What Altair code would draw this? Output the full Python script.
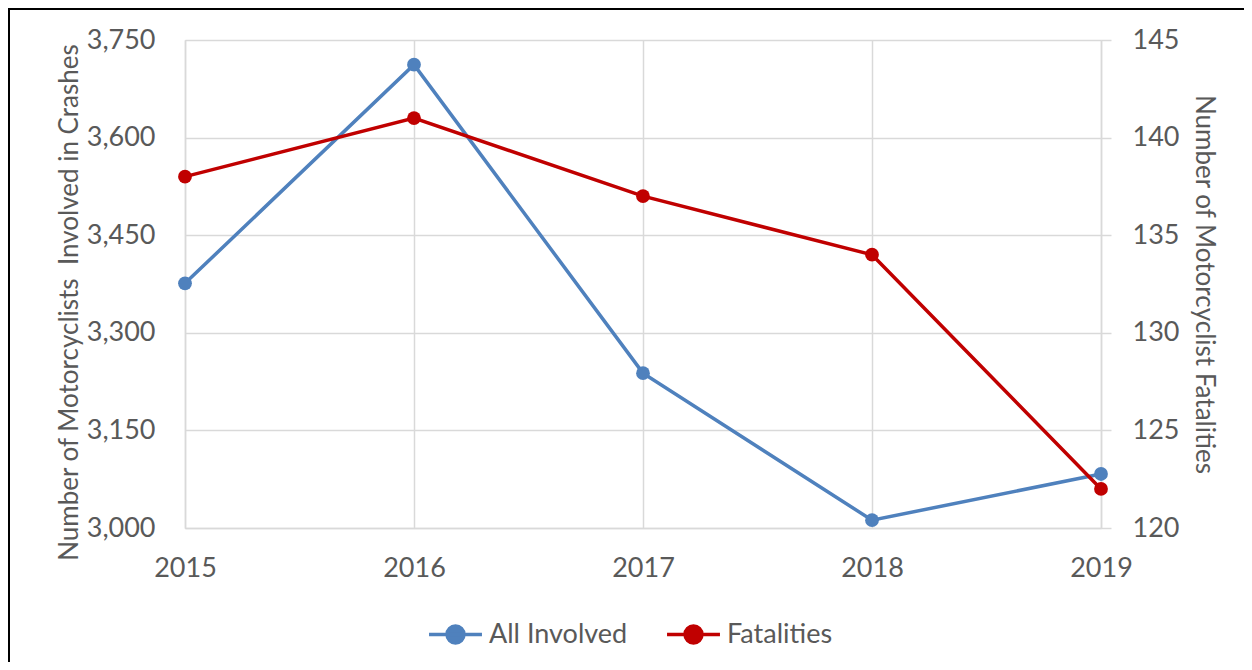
import altair as alt
import pandas as pd

years = ["2015", "2016", "2017", "2018", "2019"]
all_involved = [3376, 3712, 3238, 3012, 3083]
fatalities = [138, 141, 137, 134, 122]
series_names = ["All Involved", "Fatalities"]
series_colors = ["#4f81bd", "#c00000"]
left_ticks = [3000, 3150, 3300, 3450, 3600, 3750]
right_ticks = [120, 125, 130, 135, 140, 145]

df = pd.DataFrame({
    "year": years * 2,
    "series": [series_names[0]] * 5 + [series_names[1]] * 5,
    "value": all_involved + fatalities,
})

FONT = "Lato"
GRAY = "#595959"
GRID = "#d9d9d9"
W, H = 916, 488
LBL = 27
TTL = 26

color = alt.Color(
    "series:N",
    scale=alt.Scale(domain=series_names, range=series_colors),
    legend=alt.Legend(
        title=None,
        orient="none",
        legendX=242,
        legendY=566,
        direction="horizontal",
        symbolType="M-1,0H1M0.32,0A0.32,0.32 0 1,1 -0.32,0A0.32,0.32 0 1,1 0.32,0",
        symbolSize=2800,
        symbolStrokeWidth=3.5,
        labelFontSize=LBL,
        labelFont=FONT,
        labelColor=GRAY,
        columnPadding=32,
        labelOffset=5,
    ),
)

x = alt.X(
    "year:O",
    sort=years,
    scale=alt.Scale(type="point", padding=0),
    axis=alt.Axis(
        title=None, labelAngle=0, labelFontSize=LBL, labelFont=FONT,
        labelColor=GRAY, labelPadding=27, ticks=False, domainColor=GRID,
        domainWidth=1.5, grid=True, gridColor=GRID, gridWidth=1.5,
    ),
)

base = alt.Chart(df)

left = base.transform_filter(alt.datum.series == series_names[0]).mark_line(
    strokeWidth=3.5, point=alt.OverlayMarkDef(size=190, filled=True, opacity=1)
).encode(
    x=x,
    y=alt.Y(
        "value:Q",
        scale=alt.Scale(domain=[3000, 3750], nice=False, zero=False),
        axis=alt.Axis(
            title="Number of Motorcyclists \u00a0Involved in Crashes",
            values=left_ticks, labelExpr="format(datum.value, ',.0f')",
            labelFontSize=LBL, labelFont=FONT,
            labelColor=GRAY, labelPadding=30, ticks=False, domain=True,
            domainColor=GRID, domainWidth=1.5, grid=True, gridColor=GRID,
            gridWidth=1.5, titleFont=FONT, titleFontSize=TTL,
            titleFontWeight="normal", titleColor=GRAY, titlePadding=4,
            titleY=262,
        ),
    ),
    color=color,
)

right = base.transform_filter(alt.datum.series == series_names[1]).mark_line(
    strokeWidth=3.5, point=alt.OverlayMarkDef(size=190, filled=True, opacity=1)
).encode(
    x=x,
    y=alt.Y(
        "value:Q",
        scale=alt.Scale(domain=[120, 145], nice=False, zero=False),
        axis=alt.Axis(
            orient="right",
            title="Number of Motorcyclist Fatalities",
            values=right_ticks, labelFontSize=LBL, labelFont=FONT,
            labelColor=GRAY, labelPadding=21, ticks=True, tickSize=10,
            tickColor=GRID, tickWidth=1.5, domain=True, domainColor=GRID,
            domainWidth=1.5, grid=False, titleFont=FONT, titleFontSize=TTL,
            titleFontWeight="normal", titleColor=GRAY, titlePadding=12,
            titleAngle=90,
        ),
    ),
    color=color,
)

frame_left = alt.Chart(pd.DataFrame({"k": [0]})).mark_rule(
    color="black", strokeWidth=2
).encode(x=alt.value(-176), y=alt.value(-32), y2=alt.value(H + 200))

frame_top = alt.Chart(pd.DataFrame({"k": [0]})).mark_rule(
    color="black", strokeWidth=2
).encode(x=alt.value(-177), x2=alt.value(W + 200), y=alt.value(-31))

chart = alt.layer(left, right, frame_left, frame_top).resolve_scale(
    y="independent"
).properties(
    width=W,
    height=H,
    autosize=alt.AutoSizeParams(type="none"),
    padding={"left": 177, "top": 32, "right": 143, "bottom": 134},
).configure_view(stroke=None).configure(background="white")

chart.save("out.html", embed_options={"renderer": "svg", "actions": False})
